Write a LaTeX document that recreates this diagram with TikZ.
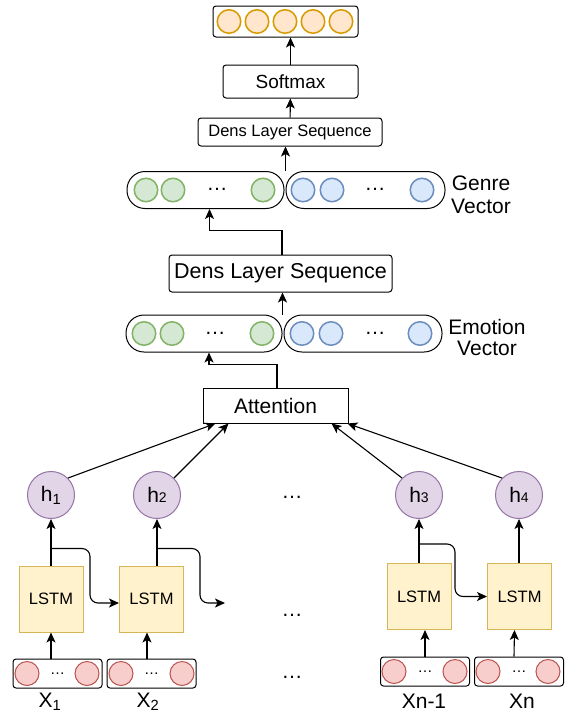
\documentclass[tikz,border=0pt]{standalone}
\usepackage{fontspec}
\setmainfont{Liberation Sans}
\usetikzlibrary{arrows.meta}
\usetikzlibrary{positioning, calc}

\definecolor{ylwfill}{HTML}{FFF2CC}
\definecolor{ylwline}{HTML}{D6B656}
\definecolor{grnfill}{HTML}{D5E8D4}
\definecolor{grnline}{HTML}{82B366}
\definecolor{blufill}{HTML}{DAE8FC}
\definecolor{bluline}{HTML}{6C8EBF}
\definecolor{redfill}{HTML}{F8CECC}
\definecolor{redline}{HTML}{B85450}
\definecolor{orgfill}{HTML}{FFE6CC}
\definecolor{orgline}{HTML}{D79B00}
\definecolor{purfill}{HTML}{E1D5E7}
\definecolor{purline}{HTML}{9673A6}

\newcommand{\fsz}[1]{\fontsize{#1}{#1}\selectfont}
\newcommand{\hdig}[1]{h{\fsz{14}#1}}

\begin{document}
\begin{tikzpicture}[x=1pt,y=-1pt,
    >={Stealth[length=10pt,width=9pt,inset=2.5pt]},
    every node/.style={inner sep=0pt,font=\fsz{21}},
    arr/.style={->,line width=1.1pt},
    box/.style={draw,line width=1pt,rounded corners=3pt},
    sharpbox/.style={draw,line width=1pt},
    pill/.style={draw,line width=1pt,rounded corners=18pt,minimum height=37},
    unit/.style={circle,line width=1.5pt,minimum size=23.5},
    hstate/.style={circle,draw=purline,fill=purfill,line width=1pt,minimum size=47},
    lstm/.style={draw=ylwline,fill=ylwfill,line width=1pt,minimum width=64,minimum height=66,font=\fsz{16.5}},
    inbox/.style={box,minimum width=89,minimum height=29,font=\fsz{15}},
    invec/.style={circle,draw=redline,fill=redfill,line width=1pt,minimum size=24}]
  \useasboundingbox (0,0) rectangle (567,713);

  % output layer
  \node[box,minimum width=145,minimum height=31] (out) at (285.5,21.5) {};
  \foreach \cx [count=\i] in {229,257,285,313,341}
    \node[unit,draw=orgline,fill=orgfill] (o\i) at (\cx,21.5) {};
  \node[box,minimum width=135,minimum height=33,font=\fsz{19}] (soft) at (290.5,81.5) {Softmax};
  \node[box,minimum width=184,minimum height=28,font=\fsz{16.5}] (sdens) at (290,132) {Dens Layer Sequence};

  % genre vector
  \node[pill,minimum width=157] (genL) at (205.5,190) {};
  \node[pill,minimum width=159] (genR) at (365.5,190) {};
  \foreach \cx [count=\i] in {146,173,263}
    \node[unit,draw=grnline,fill=grnfill] (gg\i) at (\cx,190) {};
  \foreach \cx [count=\i] in {303,332,422}
    \node[unit,draw=bluline,fill=blufill] (gb\i) at (\cx,190) {};
  \node (gdotL) at (217,189) {…};
  \node (gdotR) at (375,189) {…};
  \node[align=center,font=\linespread{1.1}\fsz{21}] (glab) at (481,195) {Genre\\Vector};

  \node[box,minimum width=223,minimum height=37,font=\fsz{21.5}] (dens) at (280.5,273.5) {Dens Layer Sequence};

  % emotion vector
  \node[pill,minimum width=156] (emoL) at (204,333.5) {};
  \node[pill,minimum width=158] (emoR) at (363,333.5) {};
  \foreach \cx [count=\i] in {144,172,262}
    \node[unit,draw=grnline,fill=grnfill] (eg\i) at (\cx,333.5) {};
  \foreach \cx [count=\i] in {302,331,420}
    \node[unit,draw=bluline,fill=blufill] (eb\i) at (\cx,333.5) {};
  \node (edotL) at (215,333) {…};
  \node (edotR) at (375,333) {…};
  \node[align=center] (elab) at (487,337) {Emotion\\Vector};

  \node[sharpbox,minimum width=145,minimum height=35] (att) at (275.5,405.5) {Attention};

  % hidden states
  \node[hstate] (h1) at (51,495) {h\textsubscript{1}};
  \node[hstate] (h2) at (157,495) {\hdig{2}};
  \node[hstate] (h3) at (419,495) {\hdig{3}};
  \node[hstate] (h4) at (519,495) {\hdig{4}};

  \node[lstm] (l1) at (51,599) {LSTM};
  \node[lstm] (l2) at (151.5,599) {LSTM};
  \node[lstm] (l3) at (419,596.5) {LSTM};
  \node[lstm] (l4) at (519.5,596.5) {LSTM};

  % inputs
  \node[inbox] (x1) at (57.5,673.5) {…};
  \node[inbox] (x2) at (151.5,673.5) {…};
  \node[inbox] (xn1) at (425,671.5) {…};
  \node[inbox] (xn) at (519,671.5) {…};
  \foreach \cx/\cy [count=\i] in {27/673.5,87/673.5,121/673.5,182/673.5,394/671.5,455/671.5,488/671.5,548/671.5}
    \node[invec] (v\i) at (\cx,\cy) {};
  \node[anchor=base] (x1lab) at (50,707) {X\textsubscript{1}};
  \node[anchor=base] (x2lab) at (148,707) {X\textsubscript{2}};
  \node[anchor=base] (xn1lab) at (424,708) {Xn-1};
  \node[anchor=base] (xnlab) at (522,708) {Xn};

  \node (mdot1) at (292,497) {…};
  \node (mdot2) at (292,615) {…};
  \node (mdot3) at (292,677) {…};

  \coordinate (a1) at ($(att.south west)+(13,0)$);
  \coordinate (a2) at ($(att.south west)+(26,0)$);
  \coordinate (a3) at ($(att.south east)+(-17,0)$);
  \coordinate (a4) at ($(att.south east)+(-1,0)$);
  \coordinate (r1) at ($(l1.north)+(0,-17)$);
  \coordinate (r2) at ($(l2.north -| h2)+(0,-17)$);
  \coordinate (r3) at ($(l3.north)+(0,-19)$);
  \coordinate (nx) at (225,603);

  % inputs to lstm
  \draw[arr] (x1.north -| l1) -- (l1);
  \draw[arr] ([xshift=-4.5]x2.north) -- ([xshift=-4.5]l2.south);
  \draw[arr] (xn1) -- (l3.south -| xn1);
  \draw[arr] ([xshift=-5]xn.north) -- ([xshift=-5]l4.south);

  % lstm to hidden
  \draw[arr] (l1) -- (h1);
  \draw[arr] (l2.north -| h2) -- (h2);
  \draw[arr] (l3) -- (h3);
  \draw[arr] (l4.north -| h4) -- (h4);

  % recurrence
  \draw[arr,rounded corners=8pt] (r1) -- ++(39,0) |- ([yshift=-4pt]l2.west);
  \draw[arr,rounded corners=8pt] (r2) -- ++(43,0) |- (nx);
  \draw[arr,rounded corners=8pt] (r3) -- ++(36,0) |- (l4.west);

  % hidden to attention
  \draw[arr] (h1.45) -- (a1);
  \draw[arr] (h2.45) -- (a2);
  \draw[arr] (h3.135) -- (a3);
  \draw[arr] (h4.135) -- (a4);

  \draw[arr] ([xshift=1.5pt]att.north) -- ++(0,-23) -| ([xshift=5pt]emoL.south);
  \draw[arr] (emoL.north east) -- (dens.south -| emoL.north east);
  \draw[arr] ([xshift=1.5pt]dens.north) -- ++(0,-24) -| ([xshift=4pt]genL.south);
  \draw[arr] (genR.north west) -- (sdens.south -| genR.north west);
  \draw[arr] (sdens) -- (soft);
  \draw[arr] (soft.north) -- (soft.north |- out.south);
\end{tikzpicture}
\end{document}
